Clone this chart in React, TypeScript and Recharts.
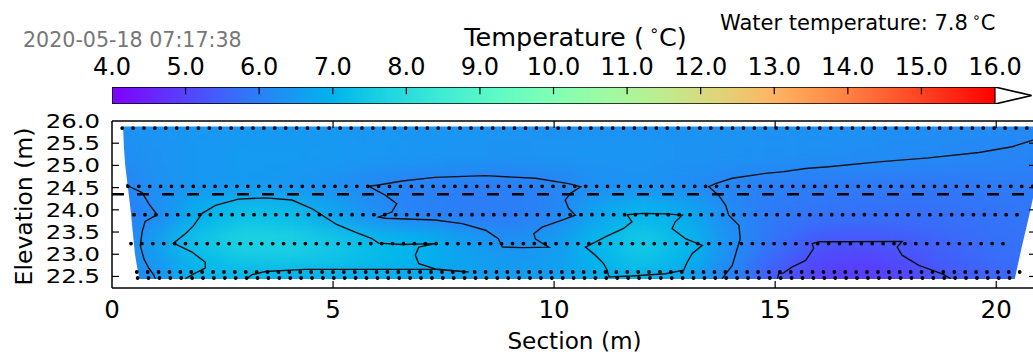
import React from 'react';
import {
  ComposedChart,
  XAxis,
  YAxis,
  Scatter,
  Line,
  Area,
  ReferenceLine,
} from 'recharts';

// ---------- texts ----------
const TIMESTAMP = '2020-05-18 07:17:38';
const COLORBAR_TITLE = 'Temperature';
const WATER_TEMP = 7.8;
const X_LABEL = 'Section (m)';
const Y_LABEL = 'Elevation (m)';

// ---------- ticks ----------
const COLORBAR_TICKS = [4, 5, 6, 7, 8, 9, 10, 11, 12, 13, 14, 15, 16];
const COLORBAR_INNER_TICKS = [5, 6, 7, 8, 9, 10, 11, 12, 13, 14, 15];
const X_TICKS = [0, 5, 10, 15, 20];
const X_INNER_TICKS = [5, 10, 15, 20];
const Y_TICKS = [22.5, 23, 23.5, 24, 24.5, 25, 25.5, 26];
const Y_INNER_TICKS = [22.5, 23, 23.5, 24, 24.5, 25, 25.5];

// ---------- axis ranges ----------
const X_DOMAIN: [number, number] = [0, 20.9];
const Y_DOMAIN: [number, number] = [22.24, 26.0];
const CB_DOMAIN: [number, number] = [4, 16.5];
const T_MIN = 4;
const T_MAX = 16;

// ---------- colormap (matplotlib "rainbow") ----------
const RAINBOW = [
  '#8000ff', '#6032fe', '#4062fa', '#208ef4', '#00b4ec', '#20d4e1', '#40ecd4', '#60fac5',
  '#80ffb4', '#9ffaa2', '#bfec8e', '#dfd478', '#ffb462', '#ff8e4a', '#ff6232', '#ff3219', '#ff0000',
];

// ---------- temperature field ----------
const GRID_X = [0, 1, 2, 3, 4, 5, 6, 7, 8, 9, 10, 11, 12, 13, 14, 15, 16, 17, 18, 19, 20, 21];
const GRID_ELEV = [25.85, 25.2, 24.55, 23.9, 23.25, 22.8, 22.47];
const T_2585 = [6.30, 6.38, 6.42, 6.45, 6.45, 6.45, 6.42, 6.40, 6.38, 6.36, 6.35, 6.35, 6.35, 6.35, 6.34, 6.33, 6.31, 6.29, 6.27, 6.24, 6.21, 6.18];
const T_2520 = [6.20, 6.35, 6.45, 6.50, 6.50, 6.47, 6.42, 6.38, 6.36, 6.35, 6.36, 6.38, 6.38, 6.35, 6.32, 6.29, 6.26, 6.23, 6.20, 6.16, 6.12, 6.08];
const T_2455 = [6.00, 6.30, 6.45, 6.50, 6.45, 6.32, 6.15, 6.05, 6.00, 6.00, 6.08, 6.28, 6.35, 6.25, 6.10, 6.00, 5.95, 5.92, 5.90, 5.90, 5.92, 5.95];
const T_2390 = [5.90, 6.20, 6.95, 7.30, 7.20, 6.70, 6.25, 6.05, 5.95, 5.95, 6.10, 6.70, 7.10, 6.80, 6.20, 5.90, 5.80, 5.75, 5.72, 5.75, 5.80, 5.85];
const T_2325 = [5.90, 6.60, 7.40, 7.75, 7.70, 7.45, 7.15, 7.00, 6.60, 6.25, 6.50, 7.10, 7.55, 7.10, 6.30, 5.80, 5.35, 5.30, 5.40, 5.60, 5.75, 5.80];
const T_2280 = [5.90, 6.50, 7.10, 7.40, 7.45, 7.35, 7.15, 6.95, 6.65, 6.50, 6.55, 7.00, 7.35, 7.00, 6.20, 5.55, 5.05, 4.90, 5.15, 5.45, 5.65, 5.75];
const T_2247 = [6.00, 6.25, 7.10, 7.00, 6.85, 6.80, 6.80, 6.75, 6.60, 6.50, 6.55, 6.90, 7.00, 6.60, 6.00, 5.35, 5.00, 4.90, 5.10, 5.35, 5.55, 5.65];
const GRID_T = [T_2585, T_2520, T_2455, T_2390, T_2325, T_2280, T_2247];

// ---------- outline of the measured area ----------
const LEFT_EDGE_X = [-0.5, 0.25, 0.25, 0.27, 0.3, 0.36, 0.42, 0.47, 0.52, 0.57, 0.62];
const LEFT_EDGE_Y = [26.6, 26.6, 25.875, 25.4, 25.0, 24.5, 24.0, 23.5, 23.0, 22.7, 22.44];
const RIGHT_EDGE_X = [20.42, 20.57, 20.75, 20.9, 21.2, 21.6];
const RIGHT_EDGE_Y = [22.445, 23.13, 23.89, 24.58, 25.875, 26.6];
const TOP_EDGE = 25.875;
const BOTTOM_EDGE = 22.445;

// ---------- sensor cables (dotted) ----------
const CABLE_ELEV = [25.84, 24.53, 23.89, 23.24, 22.6, 22.465];
const CABLE_START = [0.23, 0.36, 0.5, 0.43, 0.56, 0.58];
const CABLE_END = [21.4, 20.95, 20.5, 20.38, 20.6, 20.42];

const WATER_LEVEL = 24.35;

// ---------- contour lines ----------
const CONTOUR_LEFT: [number, number][] = [
  [0.33, 24.58], [0.38, 24.53], [0.68, 24.39], [0.83, 24.14], [1.02, 23.89], [0.75, 23.74], [0.68, 23.5],
  [0.64, 23.2], [0.72, 22.9], [0.83, 22.69], [0.94, 22.54], [0.98, 22.45],
];
const CONTOUR_BLOB_A: [number, number][] = [
  [1.66, 22.45], [1.85, 22.56], [2.11, 22.69], [2.11, 22.82], [1.81, 23.05], [1.39, 23.25], [1.66, 23.46],
  [1.85, 23.65], [2.04, 23.92], [2.34, 24.1], [2.86, 24.24], [3.47, 24.27], [4.07, 24.22], [4.52, 24.03],
  [4.75, 23.88], [5.08, 23.67], [5.5, 23.5], [5.88, 23.35], [6.03, 23.25], [6.56, 23.22], [7.31, 23.24],
  [6.94, 23.16], [6.86, 22.98], [6.94, 22.79], [7.31, 22.67], [8.07, 22.6], [7.31, 22.66], [6.18, 22.66],
  [5.05, 22.66], [4.37, 22.66], [3.47, 22.61], [3.17, 22.54], [3.05, 22.45],
];
const CONTOUR_DARK: [number, number][] = [
  [5.81, 24.53], [6.03, 24.56], [6.56, 24.65], [7.31, 24.73], [8.45, 24.77], [9.58, 24.71], [10.33, 24.59],
  [10.6, 24.52], [10.37, 24.37], [10.25, 24.22], [10.33, 24.03], [10.48, 23.88], [10.18, 23.77], [9.73, 23.61],
  [9.54, 23.46], [9.58, 23.34], [9.88, 23.16], [9.3, 23.15], [8.83, 23.16], [8.74, 23.35], [8.45, 23.54],
  [7.92, 23.69], [7.31, 23.77], [6.18, 23.81], [6.03, 23.84], [6.33, 23.95], [6.44, 24.14], [6.18, 24.33],
  [5.81, 24.53],
];
const CONTOUR_BLOB_B: [number, number][] = [
  [11.65, 23.89], [12.0, 23.92], [12.52, 23.91], [12.9, 23.88], [12.74, 23.73], [12.67, 23.58], [12.97, 23.35],
  [13.35, 23.2], [13.12, 23.01], [13.01, 22.82], [12.93, 22.64], [12.52, 22.56], [11.76, 22.51], [11.24, 22.49],
  [11.2, 22.64], [11.12, 22.79], [10.93, 22.98], [10.71, 23.16], [11.16, 23.39], [11.57, 23.58], [11.76, 23.73],
  [11.65, 23.89],
];
const CONTOUR_RIGHT: [number, number][] = [
  [21.3, 25.85], [21.0, 25.68], [20.83, 25.57], [20.36, 25.42], [19.61, 25.29], [18.47, 25.17], [17.34, 25.08],
  [16.21, 24.97], [15.69, 24.93], [15.2, 24.86], [14.78, 24.82], [14.03, 24.71], [13.65, 24.59], [13.5, 24.52],
  [13.72, 24.33], [13.88, 24.1], [13.95, 23.88], [14.18, 23.65], [14.21, 23.35], [14.12, 23.05], [14.03, 22.75],
  [13.8, 22.45],
];
const CONTOUR_PURPLE: [number, number][] = [
  [15.05, 22.45], [15.08, 22.56], [15.19, 22.58], [15.38, 22.71], [15.69, 22.86], [15.87, 23.13], [15.84, 23.24],
  [16.0, 23.28], [16.59, 23.28], [17.87, 23.29], [17.76, 23.16], [17.87, 22.98], [18.25, 22.75], [18.78, 22.56],
  [18.97, 22.45],
];
const CONTOURS = [CONTOUR_LEFT, CONTOUR_BLOB_A, CONTOUR_DARK, CONTOUR_BLOB_B, CONTOUR_RIGHT, CONTOUR_PURPLE];

// ---------- layout ----------
const MAIN_W = 1040;
const MAIN_H = 356;
const PLOT_LEFT = 112;
const PLOT_TOP = 121;
const PLOT_RIGHT_MARGIN = 4;
const X_AXIS_H = 68;
const PLOT_W = MAIN_W - PLOT_LEFT - PLOT_RIGHT_MARGIN;
const PLOT_H = MAIN_H - PLOT_TOP - X_AXIS_H;
const KX = PLOT_W / (X_DOMAIN[1] - X_DOMAIN[0]);
const KY = PLOT_H / (Y_DOMAIN[1] - Y_DOMAIN[0]);
const TICK_LEN = 7;
const FONT = 'DejaVu Sans';

// ---------- helpers ----------
function hexToRgb(h: string) {
  return [parseInt(h.slice(1, 3), 16), parseInt(h.slice(3, 5), 16), parseInt(h.slice(5, 7), 16)];
}
function colorFor(t: number) {
  let f = (t - T_MIN) / (T_MAX - T_MIN);
  f = Math.max(0, Math.min(1, f));
  const pos = f * (RAINBOW.length - 1);
  const i = Math.min(RAINBOW.length - 2, Math.floor(pos));
  const u = pos - i;
  const a = hexToRgb(RAINBOW[i]);
  const b = hexToRgb(RAINBOW[i + 1]);
  const c = a.map((v, k) => Math.round(v + (b[k] - v) * u));
  return `rgb(${c[0]},${c[1]},${c[2]})`;
}

const HEAT_POINTS = GRID_ELEV.flatMap((elev, i) =>
  GRID_X.map((x, j) => ({
    x,
    y: elev,
    t: GRID_T[i][j],
    color: colorFor(GRID_T[i][j]),
    left: j === 0 ? x - 1.5 : x - 0.5,
    right: j === GRID_X.length - 1 ? x + 1.5 : x + 0.5,
    top: i === 0 ? elev + 0.8 : (elev + GRID_ELEV[i - 1]) / 2,
    bottom: i === GRID_ELEV.length - 1 ? elev - 0.8 : (elev + GRID_ELEV[i + 1]) / 2,
  }))
);

const toXY = (pts: [number, number][]) => pts.map(([x, y]) => ({ x, y }));

const LEFT_COVER = LEFT_EDGE_X.map((x, i) => ({ x, r: [21.5, LEFT_EDGE_Y[i]] }));
const RIGHT_COVER = RIGHT_EDGE_X.map((x, i) => ({ x, r: [21.5, RIGHT_EDGE_Y[i]] }));
const TOP_COVER = [{ x: -1, r: [TOP_EDGE, 26.6] }, { x: 22, r: [TOP_EDGE, 26.6] }];
const BOTTOM_COVER = [{ x: -1, r: [21.5, BOTTOM_EDGE] }, { x: 22, r: [21.5, BOTTOM_EDGE] }];

// colour bar: fill band and outline (bar + over-range triangle)
const CB_FILL = [{ x: T_MIN, r: [0, 1] }, { x: T_MAX, r: [0, 1] }];
const CB_OUTLINE = [
  { x: T_MIN, y: 0 }, { x: T_MIN, y: 1 }, { x: T_MAX, y: 1 }, { x: CB_DOMAIN[1], y: 0.5 },
  { x: T_MAX, y: 0 }, { x: T_MIN, y: 0 },
];
const CB_SPLIT = [{ x: T_MAX, y: 0 }, { x: T_MAX, y: 1 }];

const HeatCell = (props: any) => {
  const { cx, cy, payload } = props;
  if (cx == null || cy == null || !payload) return null;
  const x0 = cx - (payload.x - payload.left) * KX;
  const x1 = cx + (payload.right - payload.x) * KX;
  const y0 = cy - (payload.top - payload.y) * KY;
  const y1 = cy + (payload.y - payload.bottom) * KY;
  return <rect x={x0 - 0.5} y={y0 - 0.5} width={x1 - x0 + 1} height={y1 - y0 + 1} fill={payload.color} />;
};

const YTick = (props: any) => {
  const { x, y, payload } = props;
  return (
    <text
      transform={`translate(${x},${y}) scale(1.25,1)`}
      textAnchor="end"
      dy="0.36em"
      fontSize={19.5}
      fontFamily={FONT}
      fill="#000"
    >
      {Number(payload.value).toFixed(1)}
    </text>
  );
};

const css = `
#main-chart .recharts-scatter { filter: url(#heatBlur); }
`;

export default function App() {
  const dy = TICK_LEN / KY;
  const dx = TICK_LEN / KX;
  return (
    <div
      style={{
        position: 'absolute',
        left: 0,
        top: 0,
        width: 1033,
        height: 356,
        overflow: 'hidden',
        background: '#fff',
        fontFamily: FONT,
      }}
    >
      <style>{css}</style>
      <svg width={1} height={1} style={{ position: 'absolute', left: 0, top: 0 }}>
        <defs>
          <filter id="heatBlur" colorInterpolationFilters="sRGB">
            <feGaussianBlur stdDeviation="16 9" />
          </filter>
          <linearGradient id="cbarGrad" x1="0" y1="0" x2="1" y2="0">
            {RAINBOW.map((c, i) => (
              <stop key={i} offset={i / (RAINBOW.length - 1)} stopColor={c} />
            ))}
          </linearGradient>
        </defs>
      </svg>

      <div id="main-chart" style={{ position: 'absolute', left: 0, top: 0 }}>
        <ComposedChart
          width={MAIN_W}
          height={MAIN_H}
          margin={{ top: PLOT_TOP, right: PLOT_RIGHT_MARGIN, bottom: 0, left: 0 }}
        >
          <XAxis
            dataKey="x"
            type="number"
            domain={X_DOMAIN}
            ticks={X_TICKS}
            allowDataOverflow
            interval={0}
            tickLine={false}
            axisLine={{ stroke: '#000', strokeWidth: 1.5 }}
            tick={{ fontSize: 24.5, fill: '#000', fontFamily: FONT }}
            tickSize={7}
            tickMargin={6}
            height={X_AXIS_H}
          />
          <YAxis
            dataKey="y"
            type="number"
            domain={Y_DOMAIN}
            ticks={Y_TICKS}
            allowDataOverflow
            interval={0}
            tickLine={false}
            axisLine={{ stroke: '#000', strokeWidth: 1.5 }}
            tick={<YTick />}
            tickSize={6}
            tickMargin={6}
            width={PLOT_LEFT}
          />
          <Scatter
            data={HEAT_POINTS}
            dataKey="y"
            shape={HeatCell}
            isAnimationActive={false}
            className="heat"
            zIndex={10}
          />
          {[LEFT_COVER, RIGHT_COVER, TOP_COVER, BOTTOM_COVER].map((d, i) => (
            <Area
              key={`cover${i}`}
              data={d}
              dataKey="r"
              type="linear"
              fill="#fff"
              fillOpacity={1}
              stroke="none"
              dot={false}
              activeDot={false}
              isAnimationActive={false}
              zIndex={20}
            />
          ))}
          {CONTOURS.map((c, i) => (
            <Line
              key={`contour${i}`}
              data={toXY(c)}
              dataKey="y"
              type="linear"
              stroke="#111"
              strokeWidth={1.4}
              dot={false}
              activeDot={false}
              isAnimationActive={false}
              zIndex={400}
            />
          ))}
          {CABLE_ELEV.map((e, i) => (
            <Line
              key={`cable${i}`}
              data={[{ x: CABLE_START[i], y: e }, { x: CABLE_END[i], y: e }]}
              dataKey="y"
              type="linear"
              stroke="#000"
              strokeWidth={3.8}
              strokeDasharray="0 10.9"
              strokeLinecap="round"
              dot={false}
              activeDot={false}
              isAnimationActive={false}
              zIndex={410}
            />
          ))}
          <ReferenceLine y={WATER_LEVEL} stroke="#000" strokeWidth={2.6} strokeDasharray="12 13" zIndex={700} />
          <ReferenceLine y={Y_DOMAIN[1]} stroke="#000" strokeWidth={1.5} zIndex={700} />
          <ReferenceLine x={X_DOMAIN[1]} stroke="#000" strokeWidth={1.5} zIndex={700} />
          {X_INNER_TICKS.map((t) => (
            <ReferenceLine
              key={`bt${t}`}
              segment={[{ x: t, y: Y_DOMAIN[0] }, { x: t, y: Y_DOMAIN[0] + dy }]}
              stroke="#000"
              strokeWidth={1.2}
              zIndex={700}
            />
          ))}
          {X_INNER_TICKS.map((t) => (
            <ReferenceLine
              key={`tt${t}`}
              segment={[{ x: t, y: Y_DOMAIN[1] }, { x: t, y: Y_DOMAIN[1] - dy }]}
              stroke="#000"
              strokeWidth={1.2}
              zIndex={700}
            />
          ))}
          {Y_INNER_TICKS.map((t) => (
            <ReferenceLine
              key={`lt${t}`}
              segment={[{ x: X_DOMAIN[0], y: t }, { x: X_DOMAIN[0] + dx, y: t }]}
              stroke="#000"
              strokeWidth={1.2}
              zIndex={700}
            />
          ))}
          {Y_INNER_TICKS.map((t) => (
            <ReferenceLine
              key={`rt${t}`}
              segment={[{ x: X_DOMAIN[1], y: t }, { x: X_DOMAIN[1] - dx, y: t }]}
              stroke="#000"
              strokeWidth={1.2}
              zIndex={700}
            />
          ))}
        </ComposedChart>
      </div>

      <div style={{ position: 'absolute', left: 0, top: 0 }}>
        <ComposedChart width={1033} height={110} margin={{ top: 57, right: 1.2, bottom: 6, left: 112 }}>
          <XAxis
            dataKey="x"
            type="number"
            orientation="top"
            domain={CB_DOMAIN}
            ticks={COLORBAR_TICKS}
            allowDataOverflow
            interval={0}
            tickLine={false}
            axisLine={false}
            tickSize={10}
            tickMargin={2}
            height={30}
            tick={{ fontSize: 24, fill: '#000', fontFamily: FONT }}
            tickFormatter={(v: number) => v.toFixed(1)}
          />
          <YAxis dataKey="y" type="number" domain={[0, 1]} hide width={0} allowDataOverflow />
          <Area
            data={CB_FILL}
            dataKey="r"
            type="linear"
            fill="url(#cbarGrad)"
            fillOpacity={1}
            stroke="none"
            dot={false}
            activeDot={false}
            isAnimationActive={false}
          />
          <Line
            data={CB_OUTLINE}
            dataKey="y"
            type="linear"
            stroke="#000"
            strokeWidth={1.6}
            dot={false}
            activeDot={false}
            isAnimationActive={false}
          />
          <Line
            data={CB_SPLIT}
            dataKey="y"
            type="linear"
            stroke="#000"
            strokeWidth={1.2}
            dot={false}
            activeDot={false}
            isAnimationActive={false}
          />
          {COLORBAR_INNER_TICKS.map((t) => (
            <Line
              key={`cbt${t}`}
              data={[{ x: t, y: 1 }, { x: t, y: 0.57 }]}
              dataKey="y"
              type="linear"
              stroke="#000"
              strokeWidth={1.2}
              dot={false}
              activeDot={false}
              isAnimationActive={false}
            />
          ))}
        </ComposedChart>
      </div>

      <svg width={1033} height={356} style={{ position: 'absolute', left: 0, top: 0, pointerEvents: 'none' }}>
        <text x={23} y={46.5} fontSize={20.6} fill="#777" fontFamily={FONT}>
          {TIMESTAMP}
        </text>
        <text x={575.5} y={45.7} fontSize={25.5} fill="#000" fontFamily={FONT} textAnchor="middle">
          {`${COLORBAR_TITLE} (\u2009`}
          <tspan fontSize={16} dy={-10}>{'\u2218'}</tspan>
          <tspan dy={10}>{'C)'}</tspan>
        </text>
        <text x={720} y={30} fontSize={21} fill="#000" fontFamily={FONT}>
          {`Water temperature: ${WATER_TEMP.toFixed(1)}\u2009`}
          <tspan fontSize={14} dy={-8}>{'\u2218'}</tspan>
          <tspan dy={8}>{'C'}</tspan>
        </text>
        <text x={574.5} y={349} fontSize={23.2} fill="#000" fontFamily={FONT} textAnchor="middle">
          {X_LABEL}
        </text>
        <text
          transform="translate(31.5,206.5) rotate(-90)"
          fontSize={23.5}
          fill="#000"
          fontFamily={FONT}
          textAnchor="middle"
        >
          {Y_LABEL}
        </text>
      </svg>
    </div>
  );
}
